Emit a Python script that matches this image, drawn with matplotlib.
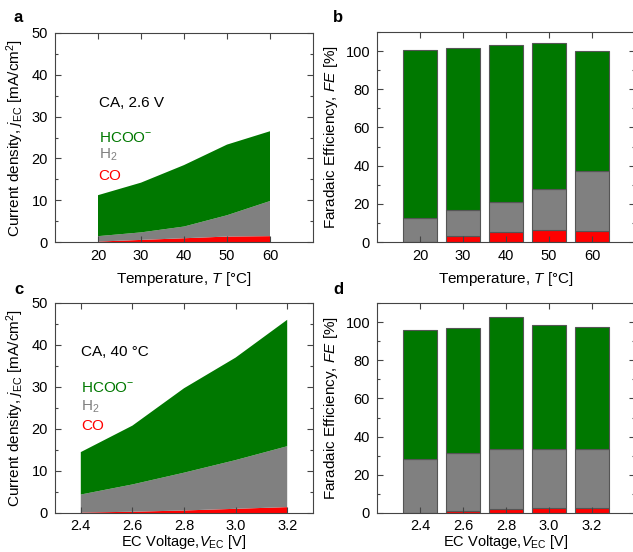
import numpy as np
import matplotlib.pyplot as plt
from matplotlib.ticker import MultipleLocator

plt.rcParams['font.family'] = ['Liberation Sans', 'DejaVu Sans']
plt.rcParams['mathtext.fontset'] = 'custom'
plt.rcParams['mathtext.rm'] = 'Liberation Sans'
plt.rcParams['mathtext.it'] = 'Liberation Sans:italic'
plt.rcParams['font.size'] = 10

green = '#007800'
grey = '#808080'
red = '#ff0000'

# panel a / b : temperature series at 2.6 V
temps = [20, 30, 40, 50, 60]
j_co_T = [0.1, 0.5, 0.9, 1.3, 1.4]
j_h2_T = [1.3, 1.8, 2.8, 5.1, 8.4]
j_hcoo_T = [9.8, 11.9, 14.7, 16.9, 16.7]

fe_co_T = [0.0, 3.0, 5.1, 6.1, 5.6]
fe_h2_T = [12.4, 13.6, 15.9, 21.5, 31.5]
fe_hcoo_T = [88.1, 85.0, 82.3, 76.4, 62.9]

# panel c / d : voltage series at 40 C
volts = [2.4, 2.6, 2.8, 3.0, 3.2]
j_co_V = [0.1, 0.3, 0.6, 1.0, 1.4]
j_h2_V = [4.3, 6.5, 9.0, 11.6, 14.5]
j_hcoo_V = [10.1, 14.0, 20.1, 24.4, 30.1]

fe_co_V = [0.0, 0.9, 1.9, 2.8, 2.8]
fe_h2_V = [28.2, 30.7, 31.6, 30.5, 30.7]
fe_hcoo_V = [67.4, 65.2, 69.0, 65.1, 64.0]

W, H = 633, 552
fig = plt.figure(figsize=(W / 100, H / 100), dpi=100)


def box(l, t, r, b):
    return [l / W, 1 - b / H, (r - l) / W, (b - t) / H]


def style(ax):
    for s in ax.spines.values():
        s.set_color('#444444')
        s.set_linewidth(0.8)
    ax.tick_params(which='both', direction='in', top=True, right=True,
                   color='#444444', width=0.8, labelsize=10.5, pad=5)
    ax.tick_params(which='major', length=4)
    ax.tick_params(which='minor', length=2)
    ax.tick_params(axis='x', which='minor', top=False, bottom=False)
    ax.set_axisbelow(False)


def area_panel(ax, x, co, h2, hcoo, xlim, label, note, ytxt, lpad):
    ax.stackplot(x, co, h2, hcoo, colors=[red, grey, green], linewidth=0)
    ax.set_xlim(*xlim)
    ax.set_ylim(0, 50)
    ax.yaxis.set_major_locator(MultipleLocator(10))
    ax.yaxis.set_minor_locator(MultipleLocator(5))
    ax.set_ylabel(r'Current density, $j_{\rm EC}$ [mA/cm$^2$]', fontsize=11)
    ax.set_xlabel(label, fontsize=11, labelpad=lpad)
    x0 = x[0] + (xlim[1] - xlim[0]) * 0.002
    ax.text(x0, ytxt[0], note, fontsize=11, va='center')
    ax.text(x0, ytxt[1], r'HCOO$^{\mathregular{-}}$', color=green, fontsize=11, va='center')
    ax.text(x0, ytxt[2], r'H$_2$', color=grey, fontsize=11, va='center')
    ax.text(x0, ytxt[3], 'CO', color=red, fontsize=11, va='center')
    style(ax)


def bar_panel(ax, x, co, h2, hcoo, xlim, width, label, ticklabels, lpad):
    co = np.array(co)
    h2 = np.array(h2)
    hcoo = np.array(hcoo)
    kw = dict(width=width, edgecolor='#555555', linewidth=0.8)
    ax.bar(x, co, color=red, **kw)
    ax.bar(x, h2, bottom=co, color=grey, **kw)
    ax.bar(x, hcoo, bottom=co + h2, color=green, **kw)
    ax.set_xlim(*xlim)
    ax.set_ylim(0, 110)
    ax.set_xticks(x)
    ax.set_xticklabels(ticklabels)
    ax.yaxis.set_major_locator(MultipleLocator(20))
    ax.yaxis.set_minor_locator(MultipleLocator(10))
    ax.set_ylabel(r'Faradaic Efficiency, $FE$ [%]', fontsize=11)
    ax.set_xlabel(label, fontsize=11, labelpad=lpad)
    style(ax)


ax_a = fig.add_axes(box(55, 33, 313, 242))
area_panel(ax_a, temps, j_co_T, j_h2_T, j_hcoo_T, (10, 70),
           r'Temperature, $T$ [°C]', 'CA, 2.6 V', [33.2, 24.9, 20.8, 15.8], 5)
ax_a.set_xticks(temps)

ax_b = fig.add_axes(box(377, 32, 635, 242))
bar_panel(ax_b, temps, fe_co_T, fe_h2_T, fe_hcoo_T, (10, 70), 8,
          r'Temperature, $T$ [°C]', [str(t) for t in temps], 5)

ax_c = fig.add_axes(box(55, 303, 313, 513))
area_panel(ax_c, volts, j_co_V, j_h2_V, j_hcoo_V, (2.3, 3.3),
           r'EC Voltage,$V_{\rm EC}$ [V]', 'CA, 40 °C', [38.3, 29.8, 25.2, 20.7], 0)
ax_c.set_xticks(volts)
ax_c.set_xticklabels([f'{v:.1f}' for v in volts])

ax_d = fig.add_axes(box(377, 303, 635, 513))
bar_panel(ax_d, volts, fe_co_V, fe_h2_V, fe_hcoo_V, (2.2, 3.4), 0.16,
          r'EC Voltage,$V_{\rm EC}$ [V]', [f'{v:.1f}' for v in volts], 0)

for ax in (ax_c, ax_d):
    ax.tick_params(axis='x', pad=4)
    ax.xaxis.label.set_fontsize(10.5)

for lab, (px, py) in zip('abcd', [(14, 18), (333, 18), (14, 290), (333, 290)]):
    fig.text(px / W, 1 - py / H, lab, fontsize=12, fontweight='bold', va='center')

fig.savefig('out.png', dpi=100)
